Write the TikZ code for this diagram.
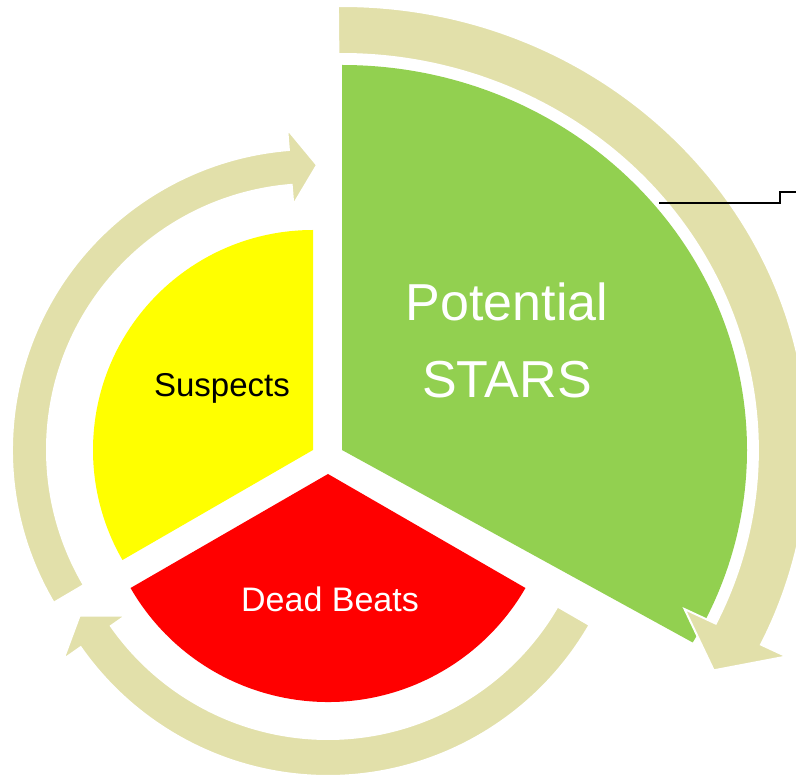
\documentclass[tikz,border=0pt]{standalone}
\usepackage{fontspec}
\setmainfont{Liberation Sans}
\definecolor{cgreen}{HTML}{92D050}
\definecolor{cyellow}{HTML}{FFFF00}
\definecolor{cred}{HTML}{FF0000}
\definecolor{cbeige}{HTML}{E2E0AA}
\begin{document}
\begin{tikzpicture}[x=1pt,y=1pt,
  sector/.style={draw=none},
  cyclearrow/.style={fill=cbeige,draw=white,line width=2pt},
  label/.style={inner sep=0pt,outer sep=0pt}]
\useasboundingbox (0,0) rectangle (796,777);
% sectors
\fill[sector,cgreen] (342,327) -- ++(0,385pt) arc[start angle=90,end angle=-30,x radius=405pt,y radius=385pt] -- cycle;
\fill[sector,cyellow] (313,327) -- ++(90:220pt) arc[start angle=90,end angle=210,radius=220pt] -- cycle;
\fill[sector,cred] (328,303) -- ++(210:228pt) arc[start angle=210,end angle=330,radius=228pt] -- cycle;
% arrows
\begin{scope}[shift={(313,327)}]
\filldraw[cyclearrow] (210.5:301pt) arc[start angle=210.5,end angle=94.6,radius=301pt] -- (94.6:322pt) -- (89.2:285pt) -- (94.6:246pt) -- (94.6:266pt) arc[start angle=94.6,end angle=210.5,radius=266pt] -- cycle;
\end{scope}
\begin{scope}[shift={(328,303)}]
\filldraw[cyclearrow] (-30:302pt) arc[start angle=-30,end angle=-145,radius=302pt] -- (-145:323pt) -- (-150.3:286pt) -- (-145:247pt) -- (-145:265pt) arc[start angle=-145,end angle=-30,radius=265pt] -- cycle;
\end{scope}
\begin{scope}[shift={(342,327)},xscale=1.05]
\filldraw[cyclearrow] (90.5:444pt) arc[start angle=90.5,end angle=-26,radius=444pt] -- (-26:471pt) -- (-31.9:417pt) -- (-26:363pt) -- (-26:396pt) arc[start angle=-26,end angle=90.5,radius=396pt] -- cycle;
\end{scope}
% labels
\node[label,text=white,align=center,font=\fontsize{52}{77}\selectfont] (stars) at (507,437) {Potential\\STARS};
\node[label,text=black,anchor=base,font=\fontsize{33}{40}\selectfont] (suspects) at (222,380) {Suspects};
\node[label,text=white,anchor=base,font=\fontsize{34}{41}\selectfont] (dead) at (330,165) {Dead Beats};
% callout leader
\coordinate (c0) at (659,574);
\coordinate (c1) at (780,574);
\coordinate (c2) at (780,585);
\coordinate (c3) at (796,585);
\draw[line width=1.3pt,black] (c0) -- (c1) -- (c2) -- (c3);
\end{tikzpicture}
\end{document}
